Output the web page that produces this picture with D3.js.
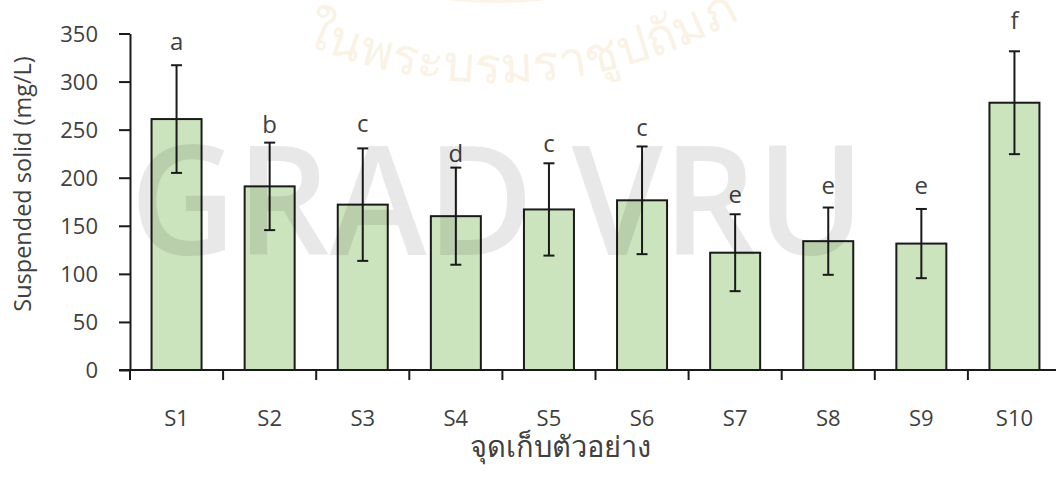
<!DOCTYPE html>
<html>
<head>
<meta charset="utf-8">
<script src="https://cdn.jsdelivr.net/npm/d3@7"></script>
<style>
  html, body { margin: 0; padding: 0; background: #fff; }
  svg { display: block; }
  text { font-family: "Open Sans", "Noto Sans", sans-serif; fill: #404040; }
</style>
</head>
<body>
<svg id="chart" width="1056" height="486"></svg>
<script>
// Sampling stations
const sites = ["S1", "S2", "S3", "S4", "S5", "S6", "S7", "S8", "S9", "S10"];
// Mean suspended solid (mg/L)
const meanSS = [261, 191, 172, 160, 167, 176.5, 122, 134, 131.5, 278];
// Standard deviation (mg/L)
const sdSS = [56, 45.5, 58.5, 50.5, 48, 56, 40, 35, 36, 53.5];
// Significance letters and the level (mg/L) each one sits at
const groups = ["a", "b", "c", "d", "c", "c", "e", "e", "e", "f"];
const groupAt = [333, 246.5, 247.5, 216.5, 226.5, 243.5, 174, 183.5, 183.5, 354.5];
// Y axis ticks
const yTicks = [0, 50, 100, 150, 200, 250, 300, 350];

const svg = d3.select("#chart");
const plotLeft = 130, plotTop = 33.5, plotBottom = 370, step = 93.1;
const plotRight = plotLeft + step * sites.length;

const x = d3.scaleBand()
  .domain(sites)
  .range([plotLeft, plotRight])
  .paddingInner(0.463)
  .paddingOuter(0.2315);

const y = d3.scaleLinear().domain([0, 350]).range([plotBottom, plotTop]);

// faint university seal peeking in at the top
const seal = { cx: 497, cy: -415, r: 418 };
svg.append("circle")
  .attr("cx", seal.cx).attr("cy", seal.cy).attr("r", seal.r)
  .attr("fill", "#f2d6ad").attr("opacity", 0.3);
const arcPath = d3.path();
arcPath.arc(seal.cx, seal.cy + 8, 490, Math.PI * 0.63, Math.PI * 0.08, true);
svg.append("path").attr("id", "sealArc").attr("d", arcPath.toString()).attr("fill", "none");
svg.append("text")
  .style("font-size", "50px")
  .style("fill", "#f0c890")
  .style("opacity", 0.22)
  .append("textPath")
  .attr("href", "#sealArc")
  .attr("startOffset", "0%")
  .text("ในพระบรมราชูปถัมภ์");

// bars
svg.append("g").selectAll("rect")
  .data(sites)
  .join("rect")
  .attr("x", d => x(d))
  .attr("width", x.bandwidth())
  .attr("y", (d, i) => y(meanSS[i]))
  .attr("height", (d, i) => y(0) - y(meanSS[i]))
  .attr("fill", "#cce4bd")
  .attr("stroke", "#1a1a1a")
  .attr("stroke-width", 2);

// error bars
const eb = svg.append("g").attr("stroke", "#1a1a1a").attr("stroke-width", 2);
sites.forEach((s, i) => {
  const cx = x(s) + x.bandwidth() / 2;
  const hi = y(meanSS[i] + sdSS[i]), lo = y(meanSS[i] - sdSS[i]);
  eb.append("line").attr("x1", cx).attr("x2", cx).attr("y1", hi).attr("y2", lo);
  eb.append("line").attr("x1", cx - 5.5).attr("x2", cx + 5.5).attr("y1", hi).attr("y2", hi);
  eb.append("line").attr("x1", cx - 5.5).attr("x2", cx + 5.5).attr("y1", lo).attr("y2", lo);
});

// significance letters
svg.append("g").selectAll("text")
  .data(sites)
  .join("text")
  .attr("x", d => x(d) + x.bandwidth() / 2)
  .attr("y", (d, i) => y(groupAt[i]))
  .attr("text-anchor", "middle")
  .style("font-size", "24px")
  .text((d, i) => groups[i]);

// y axis
const yAxis = svg.append("g")
  .attr("transform", `translate(${plotLeft},0)`)
  .call(d3.axisLeft(y).tickValues(yTicks).tickSize(11).tickPadding(21).tickSizeOuter(0));
yAxis.selectAll("text").style("font-size", "22px").attr("dy", "0.36em");

// x axis: ticks on the category boundaries
const bounds = d3.range(sites.length + 1).map(i => plotLeft + i * step);
const xAxis = svg.append("g").attr("transform", `translate(0,${plotBottom})`);
xAxis.append("line").attr("x1", plotLeft - 11).attr("x2", 1056).attr("y1", 0).attr("y2", 0);
xAxis.selectAll("line.tick").data(bounds).join("line")
  .attr("class", "tick")
  .attr("x1", d => d).attr("x2", d => d).attr("y1", 0).attr("y2", 10);
xAxis.selectAll("text").data(sites).join("text")
  .attr("x", d => x(d) + x.bandwidth() / 2)
  .attr("y", 56)
  .attr("text-anchor", "middle")
  .style("font-size", "22px")
  .text(d => d);

svg.selectAll(".domain, .tick line").attr("stroke", "#1a1a1a").attr("stroke-width", 2);
xAxis.selectAll("line").attr("stroke", "#1a1a1a").attr("stroke-width", 2);
yAxis.selectAll("text").style("fill", "#404040");

// axis titles
svg.append("text")
  .attr("transform", "translate(31,184) rotate(-90)")
  .attr("text-anchor", "middle")
  .style("font-size", "23.5px")
  .text("Suspended solid (mg/L)");

svg.append("text")
  .attr("x", 560)
  .attr("y", 457)
  .attr("text-anchor", "middle")
  .style("font-size", "29px")
  .text("จุดเก็บตัวอย่าง");

// grey GRAD VRU watermark over the plot
svg.append("text")
  .attr("x", 130)
  .attr("y", 255)
  .attr("textLength", 735)
  .attr("lengthAdjust", "spacingAndGlyphs")
  .style("font-size", "152px")
  .style("font-weight", "600")
  .style("fill", "#000")
  .style("opacity", 0.085)
  .text("GRAD VRU");
</script>
</body>
</html>
